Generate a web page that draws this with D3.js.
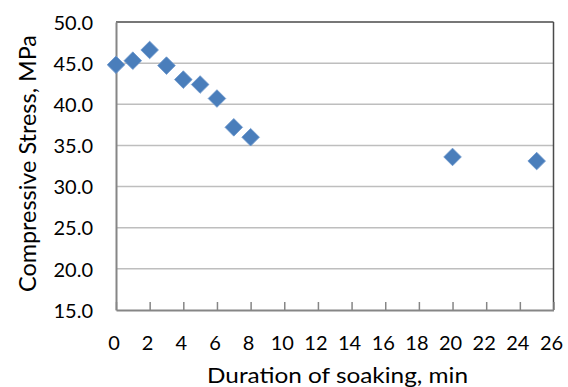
<!DOCTYPE html>
<html><head><meta charset="utf-8">
<script src="https://cdn.jsdelivr.net/npm/d3@7"></script>
<style>html,body{margin:0;padding:0;background:#fff;}</style>
</head><body>
<script>
const durations = [0,1,2,3,4,5,6,7,8,20,25];
const stress = [44.8,45.3,46.6,44.7,43.0,42.4,40.7,37.2,36.0,33.6,33.1];
const xTicks = [0,2,4,6,8,10,12,14,16,18,20,22,24,26];
const yTicks = [15,20,25,30,35,40,45,50];
const xTitle = "Duration of soaking, min";
const yTitle = "Compressive Stress, MPa";

const W=568,H=387;
const m={l:116,t:22,r:W-553.5,b:H-310};
const svg=d3.select("body").append("svg").attr("width",W).attr("height",H);
const x=d3.scaleLinear().domain([0,26]).range([m.l,W-m.r]);
const y=d3.scaleLinear().domain([15,50]).range([H-m.b,m.t]);
const font="Lato, 'Open Sans', sans-serif";

// gridlines
svg.append("g").selectAll("line").data(yTicks.filter(d=>d>15&&d<50)).join("line")
 .attr("x1",x(0)).attr("x2",x(26)).attr("y1",d=>y(d)).attr("y2",d=>y(d))
 .attr("stroke","#bebebe").attr("stroke-width",1.5);
// border top/right
svg.append("line").attr("x1",x(0)).attr("x2",x(26)).attr("y1",y(50)).attr("y2",y(50)).attr("stroke","#4a4a4a").attr("stroke-width",1.5);
svg.append("line").attr("x1",x(26)).attr("x2",x(26)).attr("y1",y(50)).attr("y2",y(15)).attr("stroke","#4a4a4a").attr("stroke-width",1.5);

// axes
const xAxis=d3.axisBottom(x).tickValues(xTicks).tickSizeInner(-8).tickSizeOuter(0).tickFormat(d3.format("d"));
const gx=svg.append("g").attr("transform",`translate(0,${y(15)})`).call(xAxis);
gx.select(".domain").attr("stroke","#868686").attr("stroke-width",2);
gx.selectAll(".tick line").attr("stroke","#868686").attr("stroke-width",1.5);
gx.selectAll("text").attr("y",40).attr("dy",null).attr("x",-2.5)
 .attr("font-family",font).attr("font-size",20).attr("fill","#000");

const yAxis=d3.axisLeft(y).tickValues(yTicks).tickSize(0).tickPadding(23).tickFormat(d3.format(".1f"));
const gy=svg.append("g").attr("transform",`translate(${x(0)},0)`).call(yAxis);
gy.select(".domain").attr("stroke","#868686").attr("stroke-width",2);
gy.selectAll("text").attr("dy","0.36em").attr("font-family",font).attr("font-size",20).attr("fill","#000");

// points
const sym=d3.symbol().type(d3.symbolSquare).size(155);
svg.append("g").selectAll("path").data(durations.map((d,i)=>[d,stress[i]])).join("path")
 .attr("d",sym).attr("transform",d=>`translate(${x(d[0])},${y(d[1])}) rotate(45)`)
 .attr("fill","#4a7ebb").attr("stroke","#6d97cc").attr("stroke-width",0.8);

// titles
svg.append("text").attr("x",207).attr("y",383)
 .attr("textLength",261).attr("lengthAdjust","spacingAndGlyphs")
 .attr("font-family",font).attr("font-size",21).text(xTitle);
svg.append("text").attr("transform",`translate(36,292) rotate(-90)`)
 .attr("textLength",257).attr("lengthAdjust","spacingAndGlyphs")
 .attr("font-family",font).attr("font-size",23).text(yTitle);
</script>
</body></html>
